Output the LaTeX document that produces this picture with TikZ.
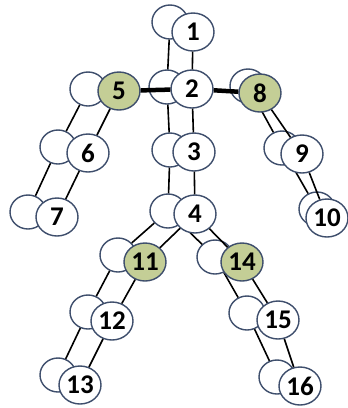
\documentclass[tikz,border=0pt]{standalone}
\usepackage{fontspec}
\setmainfont{Carlito}
\usetikzlibrary{shapes.geometric}
\definecolor{rim}{RGB}{62,78,108}
\definecolor{jointgreen}{RGB}{196,206,150}

\begin{document}
\begin{tikzpicture}[x=1pt, y=-1pt,
    backjoint/.style={draw=rim, line width=1.4pt, fill=white, ellipse, minimum width=36pt, minimum height=34pt, inner sep=0pt},
    joint/.style={backjoint, minimum width=42pt, minimum height=38pt, font=\fontsize{27}{27}\selectfont\bfseries},
    hub/.style={joint, fill=jointgreen},
    bone/.style={line width=1.6pt},
    shoulder/.style={line width=4.5pt}]
    \useasboundingbox (0,0) rectangle (348,408);

    % shadow skeleton
    \foreach \n/\x/\y in {1/170/22, 2/167/87, 3/170/150, 4/168/211, 5/88/89, 6/58/147, 7/28/212,
        8/248/86, 9/282/148, 10/317/209, 11/118/255, 12/88/312, 13/58/375, 14/215/257, 15/247/313, 16/277/377}
        \node[backjoint] (b\n) at (\x,\y) {};
    \foreach \a/\b in {1/2, 2/3, 3/4, 5/6, 6/7, 8/9, 9/10, 4/11, 11/12, 12/13, 4/14, 14/15, 15/16}
        \draw[bone] (b\a) -- (b\b);

    % front skeleton
    \foreach \n/\x/\y/\s in {1/193/32/joint, 2/192/89/joint, 3/194/152/joint, 4/195/214/joint,
        5/119/91/hub, 6/88/153/joint, 7/57/217/joint, 8/260/93/hub, 9/302/154/joint, 10/327/218/joint,
        11/145/262/hub, 12/112/321/joint, 13/80/385/joint, 14/242/262/hub, 15/278/320/joint, 16/300/386/joint}
        \node[\s] (f\n) at (\x,\y) {\n};
    \foreach \a/\b in {1/2, 2/3, 3/4, 5/6, 6/7, 8/9, 9/10, 4/11, 11/12, 12/13, 4/14, 14/15, 15/16}
        \draw[bone] (f\a) -- (f\b);
    \draw[shoulder] (f5) -- (f2);
    \draw[shoulder] (f2) -- (f8);
\end{tikzpicture}
\end{document}
